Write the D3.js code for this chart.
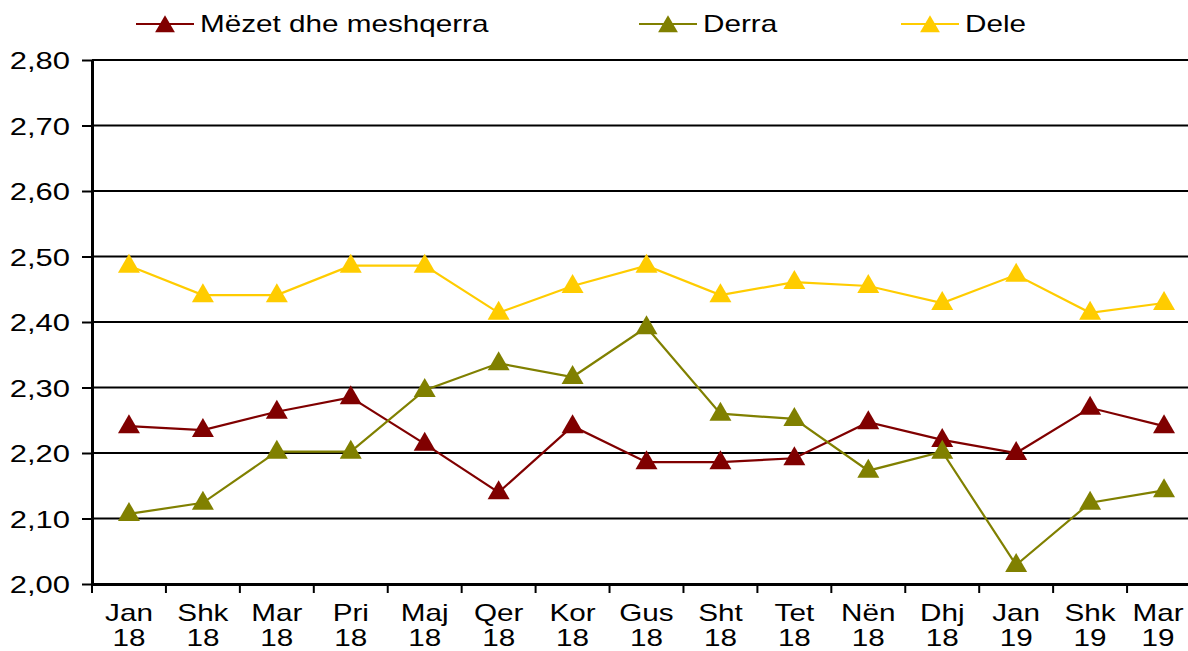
<!DOCTYPE html>
<html>
<head>
<meta charset="utf-8">
<script src="https://cdn.jsdelivr.net/npm/d3@7"></script>
<style>
  body { margin: 0; background: #fff; }
  svg text { font-family: "Liberation Sans", Arial, sans-serif; fill: #000; }
</style>
</head>
<body>
<div class="chart"></div>
<script>
// categories (month + year on two lines)
const months = ["Jan","Shk","Mar","Pri","Maj","Qer","Kor","Gus","Sht","Tet","Nën","Dhj","Jan","Shk","Mar"]
const years  = ["18","18","18","18","18","18","18","18","18","18","18","18","19","19","19"]

const mezet = [2.241,2.235,2.263,2.285,2.214,2.140,2.241,2.186,2.186,2.192,2.247,2.220,2.200,2.269,2.241]
const derra = [2.107,2.124,2.202,2.202,2.296,2.337,2.316,2.392,2.260,2.252,2.173,2.202,2.029,2.124,2.143]
const dele  = [2.486,2.441,2.441,2.486,2.486,2.414,2.455,2.486,2.441,2.461,2.455,2.429,2.472,2.414,2.429]

const seriesNames  = ["Mëzet dhe meshqerra","Derra","Dele"]
const seriesColors = ["#800000","#808000","#FFCC00"]
const yTicks = [2.0,2.1,2.2,2.3,2.4,2.5,2.6,2.7,2.8]

const width = 1188, height = 651
const padding = {left: 92, top: 60, right: -13, bottom: 67}
const stretch = 1.29  // the original text is drawn wide

const svg = d3.select(".chart").append("svg").attr("width", width).attr("height", height)

const keys = months.map((m, i) => i)
const xScale = d3.scaleBand()
    .domain(keys)
    .range([padding.left, width - padding.right])
const yScale = d3.scaleLinear()
    .domain([2.0, 2.8])
    .range([height - padding.bottom, padding.top])
const cx = d => xScale(d) + xScale.bandwidth() / 2

// gridlines
svg.append("g")
    .selectAll("line")
    .data(yTicks)
    .enter()
    .append("line")
    .attr("x1", padding.left)
    .attr("x2", width - padding.right)
    .attr("y1", d => yScale(d))
    .attr("y2", d => yScale(d))
    .attr("stroke", "#000")
    .attr("stroke-width", 2)

// y axis
const yAxis = svg.append("g")
    .attr("transform", "translate(" + padding.left + ",0)")
    .call(d3.axisLeft(yScale).tickValues(yTicks).tickSize(10).tickSizeOuter(0)
        .tickFormat(d => d3.format(".2f")(d).replace(".", ",")))
yAxis.select(".domain").attr("stroke", "#000").attr("stroke-width", 3)
yAxis.selectAll(".tick line").attr("stroke", "#000").attr("stroke-width", 2)
yAxis.selectAll(".tick text")
    .attr("font-size", 24)
    .attr("x", 0)
    .attr("dy", "0.36em")
    .attr("transform", "translate(-22,0) scale(" + stretch + ",1)")

// x axis
const xAxis = svg.append("g")
    .attr("transform", "translate(0," + yScale(2.0) + ")")
    .call(d3.axisBottom(xScale).tickSize(0).tickFormat(""))
xAxis.select(".domain").attr("stroke", "#000").attr("stroke-width", 3)
xAxis.selectAll(".tick").remove()

// ticks between categories
svg.append("g")
    .selectAll("line")
    .data(keys)
    .enter()
    .append("line")
    .attr("x1", d => xScale(d))
    .attr("x2", d => xScale(d))
    .attr("y1", yScale(2.0))
    .attr("y2", yScale(2.0) + 9)
    .attr("stroke", "#000")
    .attr("stroke-width", 2)

// category labels (last one nudged in so it is not clipped)
const lab = svg.append("g")
    .selectAll("text")
    .data(keys)
    .enter()
    .append("text")
    .attr("text-anchor", "middle")
    .attr("font-size", 23)
    .attr("transform", d => "translate(" + Math.min(cx(d), 1158) + ",0) scale(" + stretch + ",1)")
lab.append("tspan").attr("x", 0).attr("y", 621).text(d => months[d])
lab.append("tspan").attr("x", 0).attr("y", 646).text(d => years[d])

// marker: a wide triangle, a little taller than equilateral
const triangle = "M0,-12L11,7L-11,7Z"

const lineFunction = d3.line()
    .x(d => cx(d[0]))
    .y(d => yScale(d[1]))

const allSeries = [mezet, derra, dele]
allSeries.forEach((vals, s) => {
    const data = vals.map((v, i) => [i, v])
    const g = svg.append("g")
    g.append("path")
        .attr("d", lineFunction(data))
        .attr("fill", "none")
        .attr("stroke", seriesColors[s])
        .attr("stroke-width", 2.2)
    g.selectAll("path.mark")
        .data(data)
        .enter()
        .append("path")
        .attr("class", "mark")
        .attr("d", triangle)
        .attr("transform", d => "translate(" + cx(d[0]) + "," + yScale(d[1]) + ")")
        .attr("fill", seriesColors[s])
})

// legend
const legendX = [136, 639, 901]
const legend = svg.append("g")
seriesNames.forEach((name, s) => {
    const g = legend.append("g").attr("transform", "translate(" + legendX[s] + ",24)")
    g.append("line").attr("x1", 0).attr("x2", 58).attr("y1", 0).attr("y2", 0)
        .attr("stroke", seriesColors[s]).attr("stroke-width", 2.2)
    g.append("path").attr("d", triangle).attr("transform", "translate(29,2) scale(0.9)").attr("fill", seriesColors[s])
    g.append("text").attr("x", 0).attr("y", 0).attr("dy", "0.36em").attr("font-size", 23)
        .attr("transform", "translate(64,0) scale(" + stretch + ",1)")
        .text(name)
})
</script>
</body>
</html>
